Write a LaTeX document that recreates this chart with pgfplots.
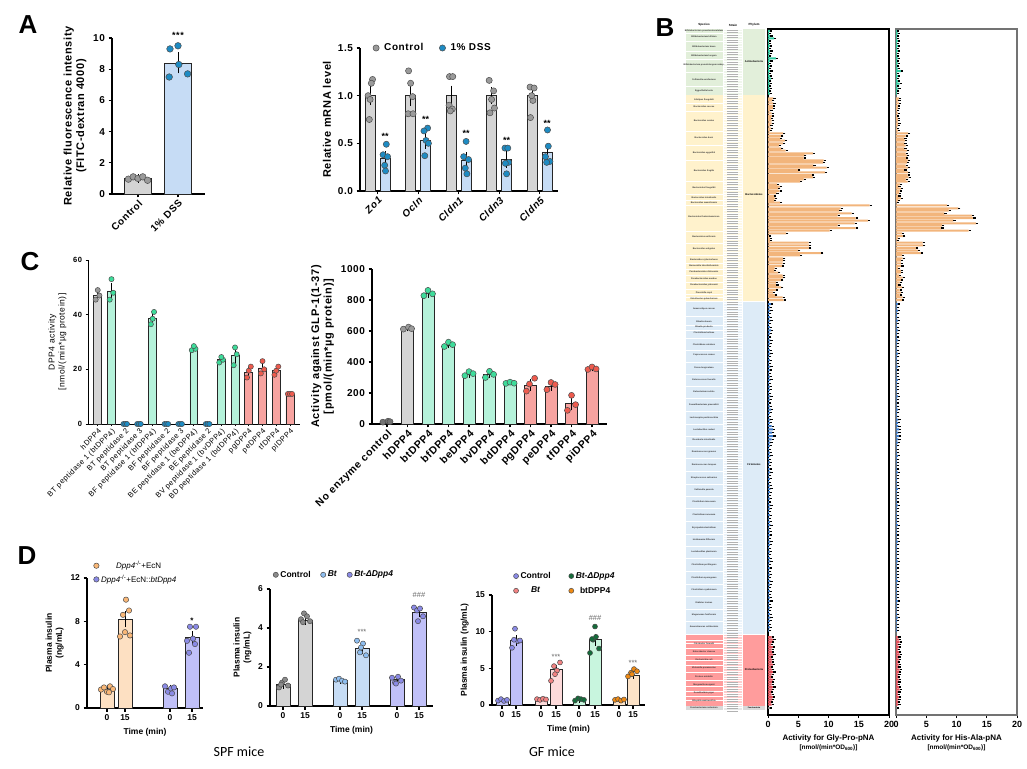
\documentclass[border=0pt]{standalone}
\usepackage{fontspec}
\setmainfont{Liberation Sans}
\newfontfamily\gpf[LetterSpace=6]{Liberation Sans}
\newfontfamily\calib{Carlito}
\usepackage{pgfplots}
\usepackage{pgfplotstable}
\pgfplotsset{compat=1.18}

\definecolor{gbar}{HTML}{D4D4D4}\definecolor{gdot}{HTML}{9A9A9A}
\definecolor{bbar}{HTML}{C6DCF5}\definecolor{bdot}{HTML}{1E8BC3}
\definecolor{mbar}{HTML}{B5F2DA}\definecolor{mdot}{HTML}{3DDC9A}
\definecolor{rbar}{HTML}{F7A3A0}\definecolor{rdot}{HTML}{EE5B4E}
\definecolor{obar}{HTML}{FDE0C2}\definecolor{odot}{HTML}{F9B777}
\definecolor{pbar}{HTML}{C0C0F8}\definecolor{pdot}{HTML}{8A8AE6}
\definecolor{lbdot}{HTML}{8EBEF0}
\definecolor{pkbar}{HTML}{FDDADA}\definecolor{pkdot}{HTML}{F28282}
\definecolor{gnbar}{HTML}{C8F5DE}\definecolor{gndot}{HTML}{146B3A}
\definecolor{ordot}{HTML}{F08A12}\definecolor{ccbar}{HTML}{FDE3C7}
\definecolor{Bor}{HTML}{F2B57C}\definecolor{Bgr}{HTML}{2ECBA0}
\definecolor{Bbl}{HTML}{3A78C8}\definecolor{Brd}{HTML}{E0505A}
\definecolor{Tgr}{HTML}{E2EFDA}\definecolor{Tor}{HTML}{FFF2CC}
\definecolor{Tbl}{HTML}{DDEBF7}\definecolor{Trd}{HTML}{FF9C9C}
\definecolor{Tgy}{HTML}{D9D9D9}

\pgfplotsset{
 gp/.style={scale only axis, anchor=south west, axis lines*=left,
  axis line style={line width=1.1pt, black, -},
  tick align=outside, major tick length=3.5pt, tick style={line width=1.1pt, black},
  /pgf/number format/assume math mode=true, /pgf/number format/1000 sep={},
  tick label style={font=\gpf\bfseries\fontsize{10}{11}\selectfont},
  label style={font=\gpf\bfseries\fontsize{11}{12.5}\selectfont},
  clip=false, ymin=0},
 mybar/.style={ybar, bar shift=0pt, draw=black!85, line width=0.7pt, fill=#1, forget plot},
 myerr/.style={forget plot, draw=none, mark=none, error bars/.cd, y dir=both, y explicit,
  error bar style={draw=black, line width=0.8pt}, error mark options={draw=black, line width=0.8pt, mark size=#1}},
 myerr/.default=2.5pt,
 mydots/.style 2 args={only marks, mark=*, mark size=#2, mark options={fill=#1, draw=black!70, line width=0.5pt}},
 Bax/.style={scale only axis, anchor=south west, width=121pt, height=686pt, xmin=0, xmax=20,
  ymin=29, ymax=715, y dir=reverse, ytick=\empty, xtick={0,5,10,15,20}, xtick pos=bottom,
  tick align=outside, major tick length=3pt, tick style={line width=0.8pt, black},
  /pgf/number format/assume math mode=true,
  tick label style={font=\bfseries\fontsize{9}{10}\selectfont},
  xlabel style={align=center, font=\bfseries\fontsize{8}{9}\selectfont}},
 Bbar/.style={xbar, bar shift=0pt, bar width=2.0, fill=#1, draw=none,
  error bars/.cd, x dir=plus, x fixed=0.35, error bar style={line width=1.1pt, black}, error mark=none},
}

\pgfplotstableread{
py gly his
31 0.3 0.2
33.5 0.2 0.3
36 0.4 0.2
38.5 1.0 0.2
41 0.2 0.3
43.5 0.2 0.2
46 0.3 0.3
48.5 0.2 0.2
51 0.4 0.3
53.5 0.3 0.2
56 0.2 0.2
58.5 1.3 0.3
61 0.4 0.2
63.5 0.2 0.3
66 0.3 0.2
68.5 0.2 0.3
71 0.4 0.8
73.5 0.2 0.2
76 0.3 0.3
78.5 0.5 0.2
81 0.2 0.3
83.5 0.3 0.6
86 0.2 0.2
88.5 0.3 0.4
91 0.2 0.2
93.5 0.3 0.2
}\Bgreen

\pgfplotstableread{
py gly his
98.3 0.9 0.5
100.7 0.7 0.4
103.3 0.9 0.5
106 0.8 0.3
108.3 0.8 0.3
110.7 0.4 0.2
113.3 0.6 0.3
116 0.7 0.2
118.3 0.5 0.3
120.7 0.6 0.3
123.3 0.6 0.4
125.7 0.4 0.3
128.3 0.5 0.2
130.7 0.3 0.3
133.3 2.5 2.0
136 2.2 1.6
138.7 2.0 1.4
140.7 2.8 1.5
143.3 2.5 1.4
145.7 1.8 1.6
148.3 2.2 1.4
150.7 2.9 1.8
153.3 7.4 1.6
155.7 6.0 1.8
158 5.9 1.7
160.3 9.2 2.0
162.7 9.1 1.8
165.3 7.5 1.6
167.7 9.7 2.0
170 5.0 1.4
172.3 9.4 2.0
175 7.3 1.9
177.3 7.4 2.1
179.3 5.9 1.6
181.7 5.3 1.9
184.3 1.5 0.7
186.7 2.0 0.4
188.7 1.7 0.8
191 1.9 0.6
193.3 1.4 0.5
196 1.0 0.4
198.3 1.2 0.8
200.5 1.0 0.3
202.7 2.0 0.1
205.3 16.8 8.4
208.3 12.0 10.3
210.7 11.8 8.7
213.3 13.8 8.0
215.7 11.5 12.6
218 14.5 12.8
220.7 16.5 9.5
223.3 14.3 13.2
225.7 11.5 7.6
228 14.5 7.5
230.7 10.2 12.0
233.3 3.0 1.0
236 0.2 1.2
238.3 0.3 0.3
240.7 0.3 0.1
242.7 6.7 4.4
245.3 6.8 4.5
248 6.8 3.3
250.7 5.0 3.6
253 8.8 4.1
255.3 5.3 1.0
258.3 2.5 1.1
260.7 2.5 0.8
263.3 2.4 0.8
266 2.3 0.9
268.3 1.1 0.3
270.7 1.0 0.8
272.7 1.7 0.8
275.3 2.4 0.5
277.7 2.5 1.1
280 2.2 0.8
282.7 1.3 0.6
285 1.4 0.4
287.3 2.2 1.0
290 1.3 0.6
292.7 0.8 0.8
295 1.2 0.6
297.3 2.4 1.1
300 2.6 1.0
}\Borange

\pgfplotstableread{
py gly his
304 0.5 0.3
307.3 0.3 0.2
310.6 0.4 0.3
313.9 0.2 0.2
317.2 0.3 0.2
320.5 0.4 0.3
323.8 0.2 0.1
327.1 0.3 0.2
330.4 0.5 0.3
333.7 0.3 0.2
337 0.2 0.2
340.3 0.4 0.3
343.6 0.3 0.2
346.9 0.2 0.1
350.2 0.3 0.2
353.5 0.4 0.3
356.8 0.2 0.2
360.1 0.3 0.2
363.4 0.2 0.1
366.7 0.4 0.3
370 0.3 0.2
373.3 0.2 0.1
376.6 0.3 0.2
379.9 0.4 0.3
383.2 0.2 0.2
386.5 0.3 0.2
389.8 0.3 0.2
393.1 0.2 0.1
396.4 0.4 0.3
399.7 0.3 0.2
403 0.2 0.1
406.3 0.3 0.2
409.6 0.5 0.3
412.9 0.3 0.2
416.2 0.2 0.2
419.5 0.4 0.4
422.8 0.3 0.3
426.1 0.6 0.4
429.4 0.8 0.5
432.7 0.7 0.4
436 0.9 0.5
439.3 0.6 0.4
442.6 0.4 0.3
445.9 0.3 0.2
449.2 0.2 0.1
452.5 0.3 0.2
455.8 0.4 0.3
459.1 0.2 0.2
462.4 0.3 0.2
465.7 0.2 0.1
469 0.3 0.2
472.3 0.4 0.3
475.6 0.2 0.1
478.9 0.3 0.2
482.2 0.2 0.2
485.5 0.3 0.2
488.8 0.4 0.3
492.1 0.3 0.2
495.4 0.2 0.1
498.7 0.3 0.2
502 0.2 0.2
505.3 0.4 0.3
508.6 0.3 0.2
511.9 0.2 0.1
515.2 0.3 0.2
518.5 0.2 0.2
521.8 0.3 0.2
525.1 0.4 0.3
528.4 0.2 0.1
531.7 0.3 0.2
535 0.3 0.2
538.3 0.2 0.1
541.6 0.4 0.3
544.9 0.3 0.2
548.2 0.2 0.2
551.5 0.3 0.2
554.8 0.2 0.1
558.1 0.3 0.2
561.4 0.4 0.3
564.7 0.2 0.2
568 0.3 0.2
571.3 0.2 0.1
574.6 0.3 0.2
577.9 0.2 0.2
581.2 0.4 0.3
584.5 0.3 0.2
587.8 0.2 0.1
591.1 0.3 0.2
594.4 0.2 0.2
597.7 0.3 0.2
601 0.4 0.3
604.3 0.2 0.2
607.6 0.3 0.2
610.9 0.2 0.1
614.2 0.3 0.2
617.5 0.4 0.3
620.8 0.3 0.2
624.1 0.2 0.1
627.4 0.3 0.2
630.7 0.2 0.2
}\Bblue

\pgfplotstableread{
py gly his
637 0.6 0.4
639.5 0.9 0.5
642 0.7 0.6
644.5 0.5 0.4
647 0.8 0.5
649.5 0.6 0.3
652 0.7 0.5
654.5 0.9 0.6
657 0.5 0.4
659.5 0.7 0.5
662 0.6 0.3
664.5 0.8 0.5
667 0.5 0.4
669.5 0.7 0.6
672 0.9 0.5
674.5 0.6 0.4
677 0.5 0.3
679.5 0.8 0.5
682 0.7 0.4
684.5 0.6 0.3
687 0.9 0.5
689.5 0.7 0.6
692 0.5 0.4
694.5 0.6 0.3
697 0.8 0.5
699.5 0.7 0.4
702 0.5 0.3
704.5 0.6 0.4
}\Bred

\pgfplotstableread{
py gly his
708 0.3 0.2
}\Bgray

\begin{document}
\begin{tikzpicture}[font=\bfseries]
\useasboundingbox (0,0) rectangle (1027pt,768pt);

% panel letters
\node[font=\bfseries\fontsize{26}{26}\selectfont] at (28pt,743pt) {A};
\node[font=\bfseries\fontsize{26}{26}\selectfont] at (665pt,740pt) {B};
\node[font=\bfseries\fontsize{26}{26}\selectfont] at (30pt,506pt) {C};
\node[font=\bfseries\fontsize{26}{26}\selectfont] at (27pt,212pt) {D};
\node[font=\calib\fontsize{14}{14}\selectfont] at (239pt,16pt) {SPF mice};
\node[font=\calib\fontsize{14}{14}\selectfont] at (552pt,16pt) {GF mice};

% ---------- Panel A left
\begin{axis}[gp, at={(112pt,574pt)}, width=93pt, height=156pt,
  xmin=-0.65, xmax=1.675, ymax=10, ytick={0,2,...,10},
  xtick={0,1}, xticklabels={Control,1\% DSS},
  xticklabel style={rotate=45, anchor=north east, inner sep=1pt},
  ylabel={Relative fluorescence intensity\\(FITC-dextran 4000)}, ylabel style={align=center}]
\addplot[mybar=gbar, bar width=0.67] coordinates {(0,1.0)};
\addplot[mybar=bbar, bar width=0.67] coordinates {(1,8.4)};
\addplot[myerr=3.5pt] coordinates {(0,1.0) +- (0,0.05) (1,8.4) +- (0,0.45)};
\addplot[mydots={gdot}{3.3pt}] coordinates {(-0.24,0.95)(-0.12,1.1)(0.0,1.0)(0.12,1.1)(0.24,0.88)};
\addplot[mydots={bdot}{3.3pt}] coordinates {(0.8,9.3)(1.0,9.5)(1.02,8.3)(0.78,7.5)(1.24,7.7)};
\node[font=\gpf\bfseries\fontsize{9}{9}\selectfont] at (axis cs:1,10.15) {***};
\end{axis}

% ---------- Panel A right
\begin{axis}[gp, at={(360pt,577pt)}, width=198pt, height=143pt,
  xmin=-0.25, xmax=4.64, ymax=1.5, ytick={0,0.5,1,1.5},
  yticklabel style={/pgf/number format/.cd, fixed, fixed zerofill, precision=1},
  xtick={0.185,1.185,2.185,3.185,4.185}, xticklabels={Zo1,Ocln,Cldn1,Cldn3,Cldn5},
  xticklabel style={rotate=45, anchor=north east, inner sep=1pt, font=\gpf\bfseries\itshape\fontsize{10}{11}\selectfont},
  ylabel={Relative mRNA level},
  legend style={draw=none, fill=none, at={(axis cs:1.55,1.5)}, anchor=center, legend columns=2,
   font=\gpf\bfseries\fontsize{10}{11}\selectfont, /tikz/every even column/.append style={column sep=14pt},
   /tikz/every odd column/.append style={column sep=3pt}}]
\addplot[mybar=gbar, bar width=0.25] coordinates {(0,1)(1,1)(2,1)(3,1)(4,1)};
\addplot[mybar=bbar, bar width=0.25] coordinates {(0.37,0.34)(1.37,0.53)(2.37,0.32)(3.37,0.33)(4.37,0.41)};
\addplot[myerr=2.5pt] coordinates {(0,1) +- (0,0.07) (1,1) +- (0,0.08) (2,1) +- (0,0.08) (3,1) +- (0,0.06) (4,1) +- (0,0.04)
 (0.37,0.34) +- (0,0.05) (1.37,0.53) +- (0,0.06) (2.37,0.32) +- (0,0.06) (3.37,0.33) +- (0,0.06) (4.37,0.41) +- (0,0.06)};
\addplot[mydots={gdot}{3.1pt}] coordinates {
 (0.06,1.17)(0.03,1.13)(-0.05,1.0)(0.0,0.96)(-0.02,0.75)
 (0.95,1.26)(1.0,1.13)(1.05,0.99)(0.94,0.81)(1.06,0.81)
 (1.96,1.2)(2.04,1.2)(1.95,0.9)(2.03,0.86)(1.98,0.84)
 (2.94,1.16)(3.05,1.05)(3.0,0.96)(3.07,0.87)(2.96,0.82)
 (3.95,1.09)(4.05,1.08)(4.02,0.95)(3.96,0.77)(3.99,1.0)};
\addlegendentry{Control}
\addplot[mydots={bdot}{3.1pt}] coordinates {
 (0.4,0.49)(0.32,0.38)(0.43,0.36)(0.36,0.27)(0.38,0.21)
 (1.42,0.66)(1.33,0.63)(1.38,0.53)(1.44,0.5)(1.35,0.37)
 (2.37,0.52)(2.31,0.36)(2.43,0.33)(2.35,0.24)(2.39,0.18)
 (3.33,0.45)(3.4,0.45)(3.42,0.3)(3.34,0.29)(3.37,0.18)
 (4.38,0.64)(4.4,0.47)(4.33,0.36)(4.44,0.31)(4.36,0.3)};
\addlegendentry{1\% DSS}
\node[font=\bfseries\fontsize{9}{9}\selectfont] at (axis cs:0.37,0.57) {**};
\node[font=\bfseries\fontsize{9}{9}\selectfont] at (axis cs:1.37,0.75) {**};
\node[font=\bfseries\fontsize{9}{9}\selectfont] at (axis cs:2.37,0.60) {**};
\node[font=\bfseries\fontsize{9}{9}\selectfont] at (axis cs:3.37,0.53) {**};
\node[font=\bfseries\fontsize{9}{9}\selectfont] at (axis cs:4.37,0.71) {**};
\end{axis}

% ---------- Panel C left
\begin{axis}[gp, at={(88pt,344pt)}, width=212pt, height=164pt,
  xmin=-0.71, xmax=14.73, ymax=60, ytick={0,20,40,60},
  tick label style={font=\gpf\bfseries\fontsize{7.5}{8}\selectfont},
  xtick={0,...,14},
  xticklabels={hDPP4,BT peptidase 1 (btDPP4),BT peptidase 2,BT peptidase 3,BF peptidase 1 (bfDPP4),BF peptidase 2,BF peptidase 3,BE peptidase 1 (beDPP4),BE peptidase 2,BV peptidase 1 (bvDPP4),BD peptidase 1 (bdDPP4),pgDPP4,peDPP4,tfDPP4,plDPP4},
  xticklabel style={rotate=45, anchor=north east, inner sep=1pt, font=\gpf\fontsize{7.5}{8}\selectfont},
  major tick length=2.5pt, axis line style={line width=0.9pt}, tick style={line width=0.9pt},
  ylabel={DPP4 activity\\{}[nmol/(min*µg protein)]}, ylabel style={align=center, font=\gpf\fontsize{8.5}{10}\selectfont}]
\addplot[mybar=gbar, bar width=0.58] coordinates {(0,47)};
\addplot[mybar=mbar, bar width=0.58] coordinates {(1,48.7)(4,38.8)(7,27.5)(9,23.5)(10,25)};
\addplot[mybar=rbar, bar width=0.58] coordinates {(11,18.8)(12,20.5)(13,19.5)(14,11)};
\addplot[myerr=2pt] coordinates {(0,47) +- (0,1) (1,48.7) +- (0,2) (4,38.8) +- (0,1.3) (7,27.5) +- (0,0.5) (9,23.5) +- (0,0.6) (10,25) +- (0,2) (11,18.8) +- (0,1.3) (12,20.5) +- (0,1.5) (13,19.5) +- (0,0.9) (14,11) +- (0,0.1)};
\addplot[mydots={gdot}{2.6pt}] coordinates {(-0.15,45.5)(0.12,47)(0,49)};
\addplot[mydots={mdot}{2.6pt}] coordinates {(0.87,45.5)(1.13,48)(1,53)(3.87,36.5)(4,38.5)(4.1,41)
 (6.85,27)(7.12,27.5)(7,28.5)(8.85,22.5)(9.12,23.5)(9,24.5)(9.9,21.5)(10.12,25.5)(10,28)};
\addplot[mydots={rdot}{2.6pt}] coordinates {(10.87,17)(11.0,19.5)(11.15,21)(11.88,18.5)(12.12,20)(12,23)
 (12.87,18)(13.0,19.5)(13.15,21)(13.85,11)(14,11)(14.15,11)};
\addplot[mydots={bdot}{2.6pt}] coordinates {(1.87,0)(2,0)(2.13,0)(2.87,0)(3,0)(3.13,0)(4.87,0)(5,0)(5.13,0)
 (5.87,0)(6,0)(6.13,0)(7.87,0)(8,0)(8.13,0)};
\end{axis}

% ---------- Panel C right
\begin{axis}[gp, at={(372pt,344pt)}, width=235pt, height=155pt,
  xmin=-0.73, xmax=10.73, ymax=1000, ytick={0,200,...,1000},
  xtick={0,...,10},
  xticklabels={No enzyme control,hDPP4,btDPP4,bfDPP4,beDPP4,bvDPP4,bdDPP4,pgDPP4,peDPP4,tfDPP4,piDPP4},
  xticklabel style={rotate=45, anchor=north east, inner sep=1pt, font=\gpf\bfseries\fontsize{10.5}{11}\selectfont},
  ylabel={Activity against GLP-1(1-37)\\{}[pmol/(min*µg protein)]}, ylabel style={align=center, font=\gpf\bfseries\fontsize{11}{12.5}\selectfont}]
\addplot[mybar=gbar, bar width=0.58] coordinates {(1,615)};
\addplot[mybar=mbar, bar width=0.58] coordinates {(2,840)(3,510)(4,320)(5,320)(6,265)};
\addplot[mybar=rbar, bar width=0.58] coordinates {(7,250)(8,245)(9,130)(10,358)};
\addplot[myerr=2pt] coordinates {(0,15) +- (0,3) (1,615) +- (0,5) (2,840) +- (0,12) (3,510) +- (0,9) (4,320) +- (0,9) (5,320) +- (0,12) (6,265) +- (0,3) (7,250) +- (0,25) (8,245) +- (0,17) (9,130) +- (0,30) (10,358) +- (0,6)};
\addplot[mydots={black!55}{3pt}] coordinates {(-0.2,12)(0.05,18)(0.15,15)};
\addplot[mydots={gdot}{3pt}] coordinates {(0.8,612)(1.05,625)(1.2,615)};
\addplot[mydots={mdot}{3pt}] coordinates {(1.8,828)(2.0,862)(2.22,840)(2.8,500)(3.0,528)(3.2,512)
 (3.8,312)(4.0,338)(4.2,325)(4.8,300)(5.0,340)(5.2,320)(5.8,262)(6.0,270)(6.2,263)};
\addplot[mydots={rdot}{3pt}] coordinates {(6.8,212)(6.95,258)(7.2,295)(7.8,222)(8.0,268)(8.2,255)
 (8.8,88)(9.0,185)(9.2,125)(9.8,352)(10.0,368)(10.2,355)};
\end{axis}

% ---------- Panel D left
\begin{axis}[gp, at={(87pt,60pt)}, width=116pt, height=130pt,
  xmin=0, xmax=116, ymax=12, ytick={0,4,8,12},
  tick label style={font=\bfseries\fontsize{8.5}{9}\selectfont},
  xtick={20,38,83,105}, xticklabels={0,15,0,15},
  label style={font=\bfseries\fontsize{8.5}{10}\selectfont},
  ylabel={Plasma insulin\\(ng/mL)}, ylabel style={align=center}, xlabel={Time (min)},
  legend style={draw=none, fill=none, at={(rel axis cs:0.03,1.16)}, anchor=north west,
   font=\fontsize{8}{9}\selectfont, row sep=1pt}]
\addplot[mybar=obar, bar width=14] coordinates {(20,1.75)(38,8.2)};
\addplot[mybar=pbar, bar width=14] coordinates {(83,1.8)(105,6.5)};
\addplot[myerr=2.5pt] coordinates {(20,1.75) +- (0,0.1) (38,8.2) +- (0,0.5) (83,1.8) +- (0,0.12) (105,6.5) +- (0,0.35)};
\addplot[mydots={odot}{2.7pt}] coordinates {(14,1.7)(17,1.9)(20,1.5)(23,2.0)(26,1.75)(22,1.45)
 (33,6.6)(36,8.6)(39,10.0)(42,9.0)(38,7.0)(43,6.7)};
\addlegendentry{\textit{Dpp4}\textsuperscript{-/-}+EcN}
\addplot[mydots={pdot}{2.7pt}] coordinates {(78,2.0)(81,1.5)(84,1.8)(87,1.9)(85,1.35)
 (100,6.2)(103,7.5)(106,6.4)(109,7.5)(102,5.1)(108,5.9)};
\addlegendentry{\textit{Dpp4}\textsuperscript{-/-}+EcN::\textit{btDpp4}}
\node[font=\bfseries\fontsize{8}{8}\selectfont] at (axis cs:105,8.1) {*};
\end{axis}

% ---------- Panel D middle
\begin{axis}[gp, at={(270pt,62pt)}, width=163pt, height=117pt,
  xmin=0, xmax=163, ymax=6, ytick={0,2,4,6},
  tick label style={font=\bfseries\fontsize{8.5}{9}\selectfont},
  xtick={13,35,70,92,127,149}, xticklabels={0,15,0,15,0,15},
  label style={font=\bfseries\fontsize{8.5}{10}\selectfont},
  ylabel={Plasma insulin\\(ng/mL)}, ylabel style={align=center}, xlabel={Time (min)},
  legend style={draw=none, fill=none, at={(rel axis cs:0.0,1.19)}, anchor=north west, legend columns=3,
   font=\bfseries\fontsize{8.5}{9}\selectfont, /tikz/every even column/.append style={column sep=8pt}}]
\addplot[mybar=gbar, bar width=14] coordinates {(13,1.1)(35,4.4)};
\addplot[mybar=bbar, bar width=14] coordinates {(70,1.32)(92,2.95)};
\addplot[mybar=pbar, bar width=14] coordinates {(127,1.35)(149,4.8)};
\addplot[myerr=2.5pt] coordinates {(13,1.1) +- (0,0.08) (35,4.4) +- (0,0.1) (70,1.32) +- (0,0.04) (92,2.95) +- (0,0.18) (127,1.35) +- (0,0.07) (149,4.8) +- (0,0.12)};
\addplot[mydots={gdot!90!black}{2.6pt}] coordinates {(9,0.95)(12,1.2)(15,1.35)(18,1.05)(11,1.1)
 (31,4.45)(34,4.75)(37,4.6)(40,4.35)(33,4.3)};
\addlegendentry{Control}
\addplot[mydots={lbdot}{2.6pt}] coordinates {(66,1.35)(69,1.4)(72,1.3)(75,1.25)
 (87,3.35)(90,2.75)(93,3.2)(96,2.6)(91,3.0)};
\addlegendentry{\textit{Bt}}
\addplot[mydots={pdot}{2.6pt}] coordinates {(122,1.45)(125,1.2)(128,1.5)(131,1.3)(126,1.15)
 (144,5.05)(147,4.9)(150,5.0)(153,4.6)(148,4.35)};
\addlegendentry{\textit{Bt-ΔDpp4}}
\node[font=\fontsize{7.5}{7.5}\selectfont, text=black!60] at (axis cs:92,3.8) {***};
\node[font=\fontsize{7.5}{7.5}\selectfont, text=black!60] at (axis cs:149,5.7) {\#\#\#};
\end{axis}

% ---------- Panel D right
\begin{axis}[gp, at={(492pt,63pt)}, width=153pt, height=110pt,
  xmin=0, xmax=153, ymax=15, ytick={0,5,10,15},
  tick label style={font=\bfseries\fontsize{8.5}{9}\selectfont},
  xtick={10,24,49,64,87,103,127,141}, xticklabels={0,15,0,15,0,15,0,15},
  label style={font=\bfseries\fontsize{8.5}{10}\selectfont},
  ylabel={Plasma insulin (ng/mL)}, xlabel={Time (min)},
  legend style={draw=none, fill=none, at={(rel axis cs:0.12,1.245)}, anchor=north west, legend columns=2,
   font=\bfseries\fontsize{8.5}{9}\selectfont, row sep=3pt, /tikz/every even column/.append style={column sep=16pt}}]
\addplot[mybar=pbar, bar width=12] coordinates {(10,0.6)(24,8.8)};
\addplot[mybar=pkbar, bar width=12] coordinates {(49,0.75)(64,4.8)};
\addplot[mybar=gnbar, bar width=12] coordinates {(87,0.7)(103,8.9)};
\addplot[mybar=ccbar, bar width=12] coordinates {(127,0.65)(141,4.1)};
\addplot[myerr=2.2pt] coordinates {(10,0.6) +- (0,0.06) (24,8.8) +- (0,0.4) (49,0.75) +- (0,0.05) (64,4.8) +- (0,0.4) (87,0.7) +- (0,0.06) (103,8.9) +- (0,0.5) (127,0.65) +- (0,0.05) (141,4.1) +- (0,0.2)};
\addplot[mydots={pdot}{2.5pt}, forget plot] coordinates {(6,0.6)(9,0.8)(12,0.55)(15,0.7)
 (20,7.8)(23,10.4)(26,8.7)(28,8.8)(22,8.9)};
\addplot[mydots={pkdot}{2.5pt}, forget plot] coordinates {(45,0.8)(48,0.7)(51,0.85)(54,0.75)
 (59,3.3)(62,5.3)(65,4.7)(68,5.8)(63,4.2)};
\addplot[mydots={gndot}{2.5pt}, forget plot] coordinates {(83,0.6)(86,0.9)(89,0.8)(92,0.7)
 (98,7.1)(101,8.9)(104,9.3)(107,7.7)(103,10.7)(100,9.0)};
\addplot[mydots={ordot}{2.5pt}, forget plot] coordinates {(123,0.7)(126,0.8)(129,0.6)(132,0.75)
 (136,3.9)(139,4.4)(142,4.9)(145,4.6)(140,4.2)};
\addlegendimage{mydots={pdot}{2.5pt}}\addlegendentry{Control}
\addlegendimage{mydots={gndot}{2.5pt}}\addlegendentry{\textit{Bt-ΔDpp4}}
\addlegendimage{mydots={pkdot}{2.5pt}}\addlegendentry{\textit{Bt}}
\addlegendimage{mydots={ordot}{2.5pt}}\addlegendentry{btDPP4}
\node[font=\fontsize{7.5}{7.5}\selectfont, text=black!60] at (axis cs:64,6.6) {***};
\node[font=\fontsize{7.5}{7.5}\selectfont, text=black!60] at (axis cs:103,11.9) {\#\#\#};
\node[font=\fontsize{7.5}{7.5}\selectfont, text=black!60] at (axis cs:141,5.8) {***};
\end{axis}

% ---------- Panel B table decoration
\fill[Tgr] (686pt,673pt) rectangle (722.5pt,739pt);
\fill[Tor] (686pt,466.5pt) rectangle (722.5pt,672.5pt);
\fill[Tbl] (686pt,134pt) rectangle (722.5pt,466pt);
\fill[Trd] (686pt,62.5pt) rectangle (722.5pt,133pt);
\fill[Tgy] (686pt,58pt) rectangle (722.5pt,62pt);
\fill[Tgr!50] (723.5pt,673pt) rectangle (742pt,739pt);
\fill[Tor!50] (723.5pt,466.5pt) rectangle (742pt,672.5pt);
\fill[Tbl!60] (723.5pt,134pt) rectangle (742pt,466pt);
\fill[Trd!50] (723.5pt,62.5pt) rectangle (742pt,133pt);
\fill[Tgy!60] (723.5pt,58pt) rectangle (742pt,62pt);
\fill[Tgr] (743pt,673pt) rectangle (765pt,739pt);
\fill[Tor] (743pt,466.5pt) rectangle (765pt,672.5pt);
\fill[Tbl] (743pt,134pt) rectangle (765pt,466pt);
\fill[Trd] (743pt,62.5pt) rectangle (765pt,133pt);
\fill[Tgy] (743pt,58pt) rectangle (765pt,62pt);
\foreach \k in {0,...,278} {
  \draw[white, line width=0.4pt] (723.5pt,{(739-2.45*\k)*1pt}) -- (742pt,{(739-2.45*\k)*1pt});
  \draw[black!30, line width=0.7pt] (727pt,{(737.8-2.45*\k)*1pt}) -- (738pt,{(737.8-2.45*\k)*1pt});
}
\foreach \s in {33.5,41,51,59,72,86,103,111,131,145,160,181,194,200,205,231,243,255,263,269,275,282,289,294,297,
 316,325,330,338,350,362,374,386,398,411,424,436,446,458,471,484,496,508,521,534,546,558,571,584,596,609,621,
 640,643,648,655,660,665,672,680,686,691,696,700}
  \draw[white, line width=0.8pt] (686pt,{(768-\s)*1pt}) -- (722.5pt,{(768-\s)*1pt});
\foreach \y/\t in {30.7/Bifidobacterium pseudocatenulatum,36.7/Bifidobacterium bifidum,46.7/Bifidobacterium breve,
 55.7/Bifidobacterium longum,65/Bifidobacterium pseudolongum subsp.,79.3/Collinsella aerofaciens,90.7/Eggerthella lenta,
 100/Alistipes finegoldii,106.3/Bacteroides caccae,121/Bacteroides ovatus,137.7/Bacteroides dorei,152.7/Bacteroides eggerthii,
 171/Bacteroides fragilis,188.3/Bacteroides finegoldii,197.7/Bacteroides intestinalis,202.3/Bacteroides massiliensis,
 216.7/Bacteroides thetaiotaomicron,236.7/Bacteroides uniformis,249/Bacteroides vulgatus,260/Bacteroides xylanisolvens,
 266/Barnesiella intestinihominis,271.7/Parabacteroides distasonis,278.7/Parabacteroides merdae,285/Parabacteroides johnsonii,
 292.7/Prevotella copri,298.7/Odoribacter splanchnicus,
 309/Anaerostipes caccae,322/Blautia obeum,327/Blautia producta,333/Clostridium bolteae,345/Clostridium scindens,
 355/Coprococcus comes,368/Dorea longicatena,380/Enterococcus faecalis,392/Eubacterium rectale,405/Faecalibacterium prausnitzii,
 418/Lachnospira pectinoschiza,430/Lactobacillus reuteri,440/Roseburia intestinalis,452/Ruminococcus gnavus,
 465/Ruminococcus torques,478/Streptococcus salivarius,490/Veillonella parvula,502/Clostridium innocuum,
 515/Clostridium ramosum,528/Erysipelatoclostridium,540/Holdemania filiformis,552/Lactobacillus plantarum,
 565/Clostridium perfringens,578/Clostridium sporogenes,590/Clostridium symbiosum,603/Dialister invisus,
 615/Megamonas funiformis,627/Anaerotruncus colihominis,
 644/Citrobacter freundii,652/Enterobacter cloacae,660/Escherichia coli,668/Klebsiella pneumoniae,
 677/Proteus mirabilis,685/Morganella morganii,693/Desulfovibrio piger,701/Bilophila wadsworthia,708/Fusobacterium nucleatum}
  \node[font=\bfseries\fontsize{2.2}{2.4}\selectfont, text=black!80, inner sep=0pt] at (704pt,{(768-\y)*1pt}) {\t};
\node[font=\bfseries\fontsize{3}{3}\selectfont, inner sep=0pt] at (704pt,743pt) {Species};
\node[font=\bfseries\fontsize{3}{3}\selectfont, inner sep=0pt] at (733pt,743pt) {Strain};
\node[font=\bfseries\fontsize{3}{3}\selectfont, inner sep=0pt] at (754pt,743pt) {Phylum};
\node[font=\bfseries\fontsize{2.6}{3}\selectfont, inner sep=0pt] at (754pt,706pt) {Actinobacteria};
\node[font=\bfseries\fontsize{2.6}{3}\selectfont, inner sep=0pt] at (754pt,573pt) {Bacteroidetes};
\node[font=\bfseries\fontsize{2.6}{3}\selectfont, inner sep=0pt] at (754pt,303pt) {Firmicutes};
\node[font=\bfseries\fontsize{2.6}{3}\selectfont, inner sep=0pt] at (754pt,98pt) {Proteobacteria};
\node[font=\bfseries\fontsize{2}{2}\selectfont, inner sep=0pt] at (754pt,60pt) {Fusobacteria};

% ---------- Panel B bars
\begin{axis}[Bax, at={(768pt,53pt)}, axis line style={line width=1.6pt, black},
  xlabel={Activity for Gly-Pro-pNA\\{\fontsize{6.5}{7}\selectfont[nmol/(min*OD\textsubscript{600})]}}]
\addplot[Bbar=Bgr] table[x=gly, y=py] {\Bgreen};
\addplot[Bbar=Bor] table[x=gly, y=py] {\Borange};
\addplot[Bbar=Bbl] table[x=gly, y=py] {\Bblue};
\addplot[Bbar=Brd] table[x=gly, y=py] {\Bred};
\addplot[Bbar=gray] table[x=gly, y=py] {\Bgray};
\end{axis}
\begin{axis}[Bax, at={(896pt,53pt)}, axis line style={line width=1.6pt, black!55},
  xlabel={Activity for His-Ala-pNA\\{\fontsize{6.5}{7}\selectfont[nmol/(min*OD\textsubscript{600})]}}]
\addplot[Bbar=Bgr] table[x=his, y=py] {\Bgreen};
\addplot[Bbar=Bor] table[x=his, y=py] {\Borange};
\addplot[Bbar=Bbl] table[x=his, y=py] {\Bblue};
\addplot[Bbar=Brd] table[x=his, y=py] {\Bred};
\addplot[Bbar=gray] table[x=his, y=py] {\Bgray};
\end{axis}
\end{tikzpicture}
\end{document}
